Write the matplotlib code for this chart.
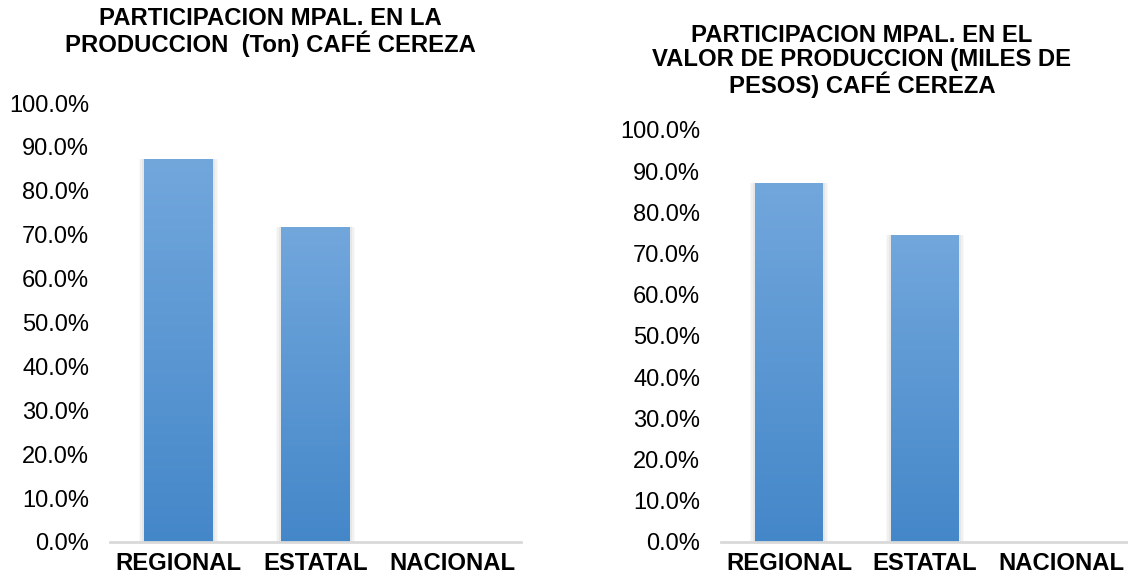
import matplotlib.pyplot as plt
import numpy as np
from matplotlib.colors import LinearSegmentedColormap
from matplotlib.ticker import PercentFormatter

plt.rcParams['font.family'] = ['Liberation Sans', 'DejaVu Sans']

## data ##
categorias = ["REGIONAL", "ESTATAL", "NACIONAL"]
prod_ton = [0.873, 0.718, 0.0]
valor_prod = [0.872, 0.746, 0.0]
titulo_izq = "PARTICIPACION MPAL. EN LA\nPRODUCCION  (Ton) CAFÉ CEREZA"
titulo_der = "PARTICIPACION MPAL. EN EL\nVALOR DE PRODUCCION (MILES DE\nPESOS) CAFÉ CEREZA"

grad = LinearSegmentedColormap.from_list("azul", ["#4487c9", "#72a7dc"])
fs_tick = 17
fs_bold = 17.2

fig = plt.figure(figsize=(11.28, 5.81), dpi=100)


def panel(rect, vals):
    ax = fig.add_axes(rect)
    x = np.arange(len(categorias))
    # soft glow/shadow around the bars
    for w, a in [(0.58, 0.04), (0.555, 0.06), (0.53, 0.09)]:
        ax.bar(x, vals, width=w, color="#7f7f7f", alpha=a, zorder=1)
    bars = ax.bar(x, vals, width=0.5, color="none", zorder=2)
    for b in bars:
        h = b.get_height()
        if h <= 0:
            continue
        xx = b.get_x()
        im = ax.imshow(np.linspace(0, 1, 256).reshape(-1, 1), cmap=grad,
                       origin="lower", aspect="auto",
                       extent=[xx, xx + b.get_width(), 0, h], zorder=3)
        im.set_clip_path(b)
    ax.set_xlim(-0.5, 2.5)
    ax.set_ylim(0, 1)
    ax.set_yticks(np.arange(0, 1.01, 0.1))
    ax.yaxis.set_major_formatter(PercentFormatter(1.0, decimals=1))
    ax.set_xticks(x)
    ax.set_xticklabels(categorias, fontweight="bold", fontsize=fs_bold)
    ax.tick_params(axis="y", length=0, pad=15, labelsize=fs_tick)
    ax.tick_params(axis="x", length=0, pad=7)
    for s in ["top", "right", "left"]:
        ax.spines[s].set_visible(False)
    ax.spines["bottom"].set_color("#d9d9d9")
    ax.spines["bottom"].set_linewidth(2)
    ax.spines["bottom"].set_zorder(4)
    return ax


panel([110 / 1128, 39 / 581, 411 / 1128, 439 / 581], prod_ton)
panel([721 / 1128, 39 / 581, 408 / 1128, 412 / 581], valor_prod)

fig.text(270 / 1128, 1 - 32 / 581, titulo_izq, ha="center", va="center",
         fontsize=fs_bold, fontweight="bold", linespacing=1.02)
fig.text(862 / 1128, 1 - 61 / 581, titulo_der, ha="center", va="center",
         fontsize=fs_bold, fontweight="bold", linespacing=1.02)

fig.savefig("out.png", dpi=100)
